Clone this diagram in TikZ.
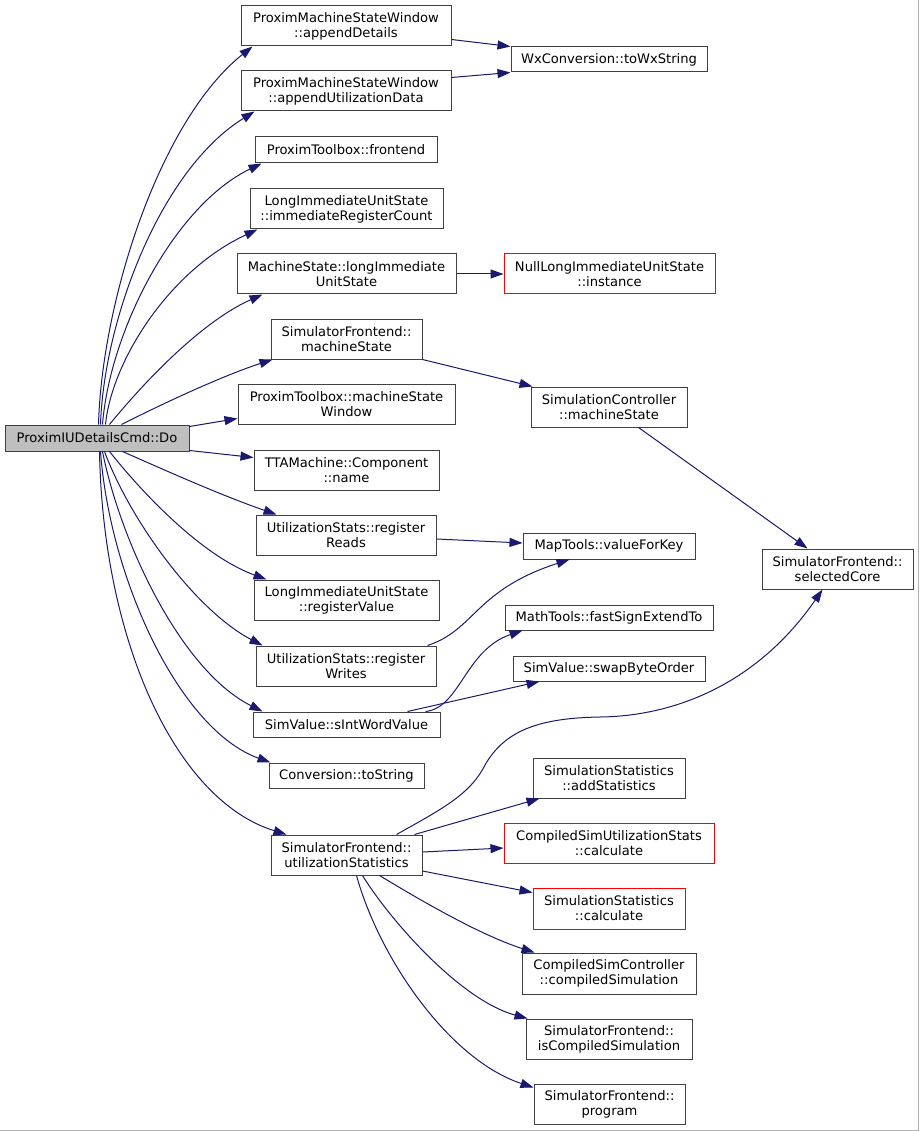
\documentclass[tikz,border=0pt]{standalone}
\usepackage{fontspec}
\setmainfont{DejaVu Sans}
\usetikzlibrary{arrows.meta,calc}
\definecolor{edgecol}{HTML}{191970}
\definecolor{rootfill}{HTML}{BFBFBF}
\definecolor{boxcol}{HTML}{404040}
\begin{document}
\begin{tikzpicture}[x=1pt,y=-1pt,
 box/.style={draw=boxcol, line width=1pt, fill=white, rectangle, inner sep=0pt, align=center, font=\fontsize{13.1}{15}\selectfont},
 redbox/.style={box, draw=red},
 rootbox/.style={box, fill=rootfill},
 edge/.style={draw=edgecol, line width=1pt, -{Triangle[length=13pt,width=9pt]}},
]
\useasboundingbox (0,0) rectangle (919,1131);
\fill[white] (0,0) rectangle (919,1131);
\draw[gray!60, line width=1pt] (918.5,0) -- (918.5,1130.5) -- (0,1130.5);

% left column
\node[rootbox, minimum width=184pt, minimum height=26pt] (root) at (97,438) {ProximIUDetailsCmd::Do};
\node[box, minimum width=210pt, minimum height=40pt] (appD) at (346,26) {ProximMachineStateWindow\\::appendDetails};
\node[box, minimum width=210pt, minimum height=40pt] (appU) at (346,91) {ProximMachineStateWindow\\::appendUtilizationData};
\node[box, minimum width=182pt, minimum height=26pt] (ptFront) at (346,150) {ProximToolbox::frontend};
\node[box, minimum width=193pt, minimum height=40pt] (liImm) at (346.5,209) {LongImmediateUnitState\\::immediateRegisterCount};
\node[box, minimum width=219pt, minimum height=40pt] (msLong) at (346.5,274) {MachineState::longImmediate\\UnitState};
\node[box, minimum width=151pt, minimum height=40pt] (sfMs) at (346.5,339) {SimulatorFrontend::\\machineState};
\node[box, minimum width=217pt, minimum height=40pt] (ptMsw) at (346.5,404) {ProximToolbox::machineState\\Window};
\node[box, minimum width=185pt, minimum height=40pt] (ttaName) at (346.5,470) {TTAMachine::Component\\::name};
\node[box, minimum width=180pt, minimum height=40pt] (usReads) at (346,535) {UtilizationStats::register\\Reads};
\node[box, minimum width=185pt, minimum height=40pt] (liRegVal) at (346.5,600) {LongImmediateUnitState\\::registerValue};
\node[box, minimum width=180pt, minimum height=40pt] (usWrites) at (346,666) {UtilizationStats::register\\Writes};
\node[box, minimum width=187pt, minimum height=25pt] (sIntWord) at (346.5,724.5) {SimValue::sIntWordValue};
\node[box, minimum width=155pt, minimum height=25pt] (convStr) at (346.5,775.5) {Conversion::toString};
\node[box, minimum width=151pt, minimum height=40pt] (sfUtil) at (346.5,855) {SimulatorFrontend::\\utilizationStatistics};

% right column
\node[box, minimum width=196pt, minimum height=25pt] (wxStr) at (609,59.5) {WxConversion::toWxString};
\node[redbox, minimum width=211pt, minimum height=40pt] (nullInst) at (609.5,274) {NullLongImmediateUnitState\\::instance};
\node[box, minimum width=156pt, minimum height=40pt] (scMs) at (609,407) {SimulationController\\::machineState};
\node[box, minimum width=172pt, minimum height=26pt] (mapVfk) at (609,546) {MapTools::valueForKey};
\node[box, minimum width=151pt, minimum height=40pt] (selCore) at (837.5,569) {SimulatorFrontend::\\selectedCore};
\node[box, minimum width=208pt, minimum height=25pt] (msExt) at (609,617.5) {MathTools::fastSignExtendTo};
\node[box, minimum width=192pt, minimum height=25pt] (swapBO) at (609,668.5) {SimValue::swapByteOrder};
\node[box, minimum width=152pt, minimum height=40pt] (ssAdd) at (609,778) {SimulationStatistics\\::addStatistics};
\node[redbox, minimum width=210pt, minimum height=40pt] (csuCalc) at (609,843) {CompiledSimUtilizationStats\\::calculate};
\node[redbox, minimum width=152pt, minimum height=41pt] (ssCalc) at (609,908.5) {SimulationStatistics\\::calculate};
\node[box, minimum width=174pt, minimum height=41pt] (cscComp) at (609,973.5) {CompiledSimController\\::compiledSimulation};
\node[box, minimum width=166pt, minimum height=40pt] (sfIsComp) at (609,1039) {SimulatorFrontend::\\isCompiledSimulation};
\node[box, minimum width=151pt, minimum height=40pt] (sfProg) at (609.5,1104) {SimulatorFrontend::\\program};

% edges from root (upwards)
\draw[edge] ([xshift=94pt]root.north west) .. controls (102,300) and (160,120) .. ([xshift=12pt]appD.south west);
\draw[edge] ([xshift=96pt]root.north west) .. controls (104,320) and (160,170) .. ([xshift=14pt]appU.south west);
\draw[edge] ([xshift=98pt]root.north west) .. controls (110,330) and (175,205) .. ([xshift=7pt]ptFront.south west);
\draw[edge] ([xshift=101pt]root.north west) .. controls (112,360) and (170,270) .. ([xshift=8pt]liImm.south west);
\draw[edge] ([xshift=105pt]root.north west) .. controls (150,375) and (205,320) .. ([xshift=26pt]msLong.south west);
\draw[edge] ([xshift=117pt]root.north west) .. controls (170,400) and (225,375) .. ([xshift=2pt]sfMs.south west);
\draw[edge] ([yshift=-2pt]root.north east) -- ([yshift=6pt]ptMsw.south west);
\draw[edge] ([yshift=1pt]root.south east) -- ([yshift=-8pt]ttaName.north west);
% edges from root (downwards)
\draw[edge] ([xshift=118pt]root.south west) .. controls (160,468) and (220,495) .. ([xshift=21pt]usReads.north west);
\draw[edge] ([xshift=105pt]root.south west) .. controls (140,490) and (200,555) .. ([xshift=13pt]liRegVal.north west);
\draw[edge] ([xshift=100pt]root.south west) .. controls (130,520) and (195,610) .. ([xshift=7pt]usWrites.north west);
\draw[edge] ([xshift=98pt]root.south west) .. controls (120,540) and (180,670) .. ([xshift=10pt]sIntWord.north west);
\draw[edge] ([xshift=96pt]root.south west) .. controls (110,580) and (180,730) .. ([xshift=2pt]convStr.north west);
\draw[edge] ([xshift=95pt]root.south west) .. controls (103,640) and (175,800) .. ([xshift=16pt]sfUtil.north west);

% second level edges
\draw[edge] ([yshift=7pt]appD.south east) -- (wxStr.north west);
\draw[edge] ([yshift=-7pt]appU.north east) -- (wxStr.south west);
\draw[edge] (msLong.east) -- (nullInst.west);
\draw[edge] (sfMs.south east) -- ([xshift=2pt]scMs.north west);
\draw[edge] ([xshift=108pt]scMs.south west) -- ([xshift=46pt]selCore.north west);
\draw[edge] ([yshift=-4pt]usReads.east) -- ([yshift=3pt]mapVfk.west);
\draw[edge] ([xshift=-9pt]usWrites.north east) .. controls (475,630) and (475,590) .. ([xshift=47pt]mapVfk.south west);
\draw[edge] ([xshift=-15pt]sIntWord.north east) .. controls (460,708) and (465,650) .. ([xshift=18pt]msExt.south west);
\draw[edge] ([xshift=-33pt]sIntWord.north east) -- ([xshift=27pt]swapBO.south west);
\draw[edge] ([xshift=126pt]sfUtil.north west) .. controls (440,810) and (470,795) .. (485,765)
  .. controls (505,730) and (540,718) .. (600,717)
  .. controls (680,716) and (760,680) .. ([xshift=-15pt]selCore.south);
\draw[edge] ([xshift=144pt]sfUtil.north west) -- ([xshift=7pt]ssAdd.south west);
\draw[edge] ([yshift=3pt]sfUtil.east) -- ([yshift=-5pt]csuCalc.west);
\draw[edge] ([yshift=-16pt]sfUtil.east) -- ([yshift=-5pt]ssCalc.north west);
\draw[edge] ([xshift=109pt]sfUtil.south west) .. controls (420,900) and (480,935) .. ([xshift=13pt]cscComp.north west);
\draw[edge] ([xshift=92pt]sfUtil.south west) .. controls (390,920) and (460,1000) .. ([xshift=2pt]sfIsComp.north west);
\draw[edge] ([xshift=86pt]sfUtil.south west) .. controls (380,960) and (450,1060) .. ([yshift=-4pt]sfProg.north west);
\end{tikzpicture}
\end{document}
